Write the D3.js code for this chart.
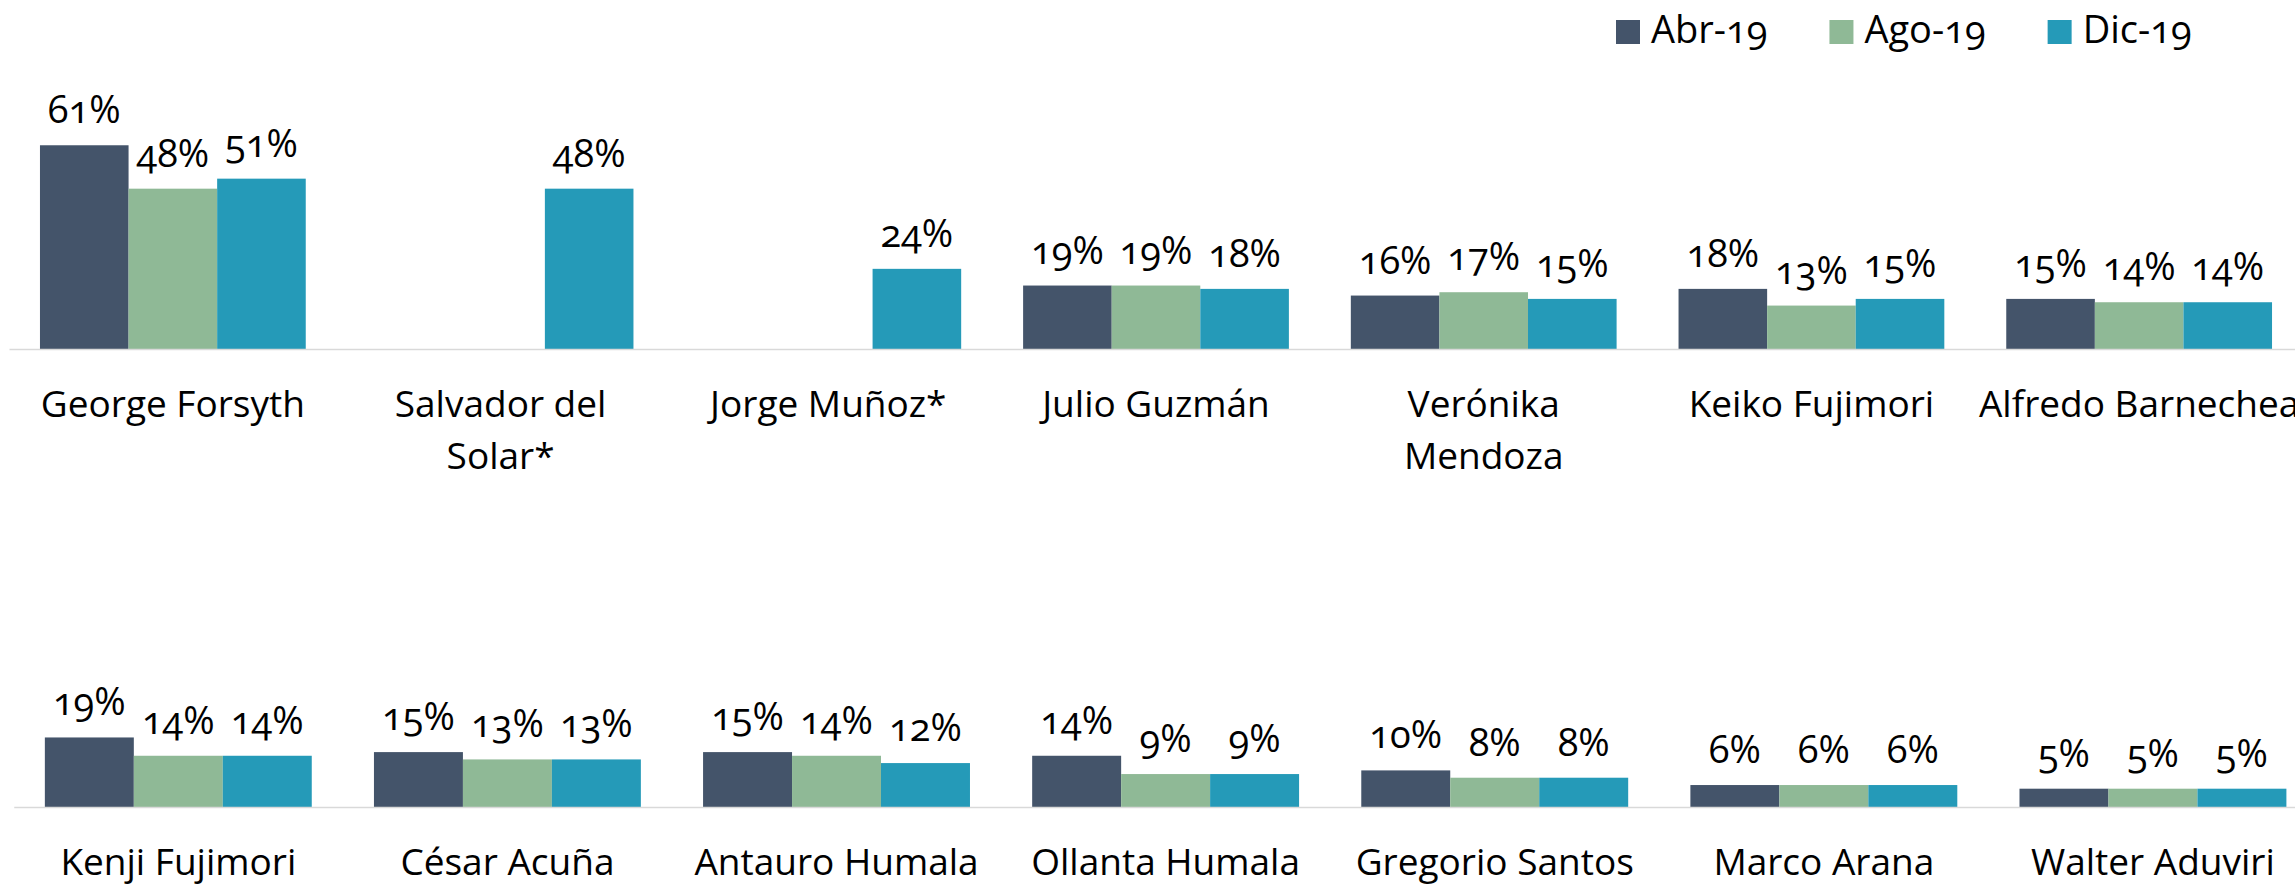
<!DOCTYPE html>
<html>
<head>
<meta charset="utf-8">
<script src="https://cdn.jsdelivr.net/npm/d3@7"></script>
<style>
  html, body { margin: 0; padding: 0; background: #fff; }
  svg { display: block; }
  text { font-family: "Open Sans", "Noto Sans", sans-serif; fill: #000; font-feature-settings: "onum" 1; font-variant-numeric: oldstyle-nums; }
</style>
</head>
<body>
<svg id="chart" width="2295" height="885"></svg>
<script>
// ---- Data ----
const series = ["Abr-19", "Ago-19", "Dic-19"];
const seriesColors = ["#44546A", "#8FB996", "#259AB8"];

const topCategories = ["George Forsyth", "Salvador del\nSolar*", "Jorge Muñoz*", "Julio Guzmán", "Verónika\nMendoza", "Keiko Fujimori", "Alfredo Barnechea"];
const topAbr = [61, null, null, 19, 16, 18, 15];
const topAgo = [48, null, null, 19, 17, 13, 14];
const topDic = [51, 48, 24, 18, 15, 15, 14];

const bottomCategories = ["Kenji Fujimori", "César Acuña", "Antauro Humala", "Ollanta Humala", "Gregorio Santos", "Marco Arana", "Walter Aduviri"];
const bottomAbr = [19, 15, 15, 14, 10, 6, 5];
const bottomAgo = [14, 13, 14, 9, 8, 6, 5];
const bottomDic = [14, 13, 12, 9, 8, 6, 5];

// ---- Drawing ----
const svg = d3.select("#chart");

function panel(cfg) {
  const { categories, values, xRange, baseY, pxPerPct } = cfg;
  const g = svg.append("g");

  const x = d3.scaleBand().domain(categories).range(xRange)
    .paddingInner(0.189).paddingOuter(0.0945);
  const xs = d3.scaleBand().domain(series).range([0, x.bandwidth()]);
  const y = d3.scaleLinear().domain([0, 100]).range([baseY, baseY - 100 * pxPerPct]);

  const rows = [];
  categories.forEach((c, i) => {
    series.forEach((s, j) => {
      const v = values[j][i];
      if (v != null) rows.push({ c, s, v, j });
    });
  });

  g.selectAll("rect.bar").data(rows).join("rect")
    .attr("class", "bar")
    .attr("x", d => x(d.c) + xs(d.s))
    .attr("width", xs.bandwidth())
    .attr("y", d => y(d.v))
    .attr("height", d => y(0) - y(d.v))
    .attr("fill", d => seriesColors[d.j]);

  g.selectAll("text.val").data(rows).join("text")
    .attr("class", "val")
    .attr("x", d => x(d.c) + xs(d.s) + xs.bandwidth() / 2)
    .attr("y", d => y(d.v) - 22)
    .attr("text-anchor", "middle")
    .style("font-size", "38px")
    .text(d => d.v + "%");

  const axis = d3.axisBottom(x).tickSize(0).tickSizeOuter(0).tickFormat("");
  const ag = g.append("g").attr("transform", `translate(0,${baseY})`).call(axis);
  ag.select(".domain").attr("stroke", "#d9d9d9").attr("stroke-width", 1.5);

  ag.selectAll(".tick text").remove();
  ag.selectAll(".tick").append("text")
    .attr("text-anchor", "middle")
    .attr("y", 68)
    .style("font-size", "37px")
    .attr("fill", "#000")
    .each(function (d) {
      const lines = d.split("\n");
      const t = d3.select(this);
      lines.forEach((ln, k) => {
        t.append("tspan").attr("x", 0).attr("dy", k === 0 ? 0 : 52).text(ln);
      });
    });
}

panel({
  categories: topCategories,
  values: [topAbr, topAgo, topDic],
  xRange: [9, 2303],
  baseY: 349,
  pxPerPct: 3.34
});

panel({
  categories: bottomCategories,
  values: [bottomAbr, bottomAgo, bottomDic],
  xRange: [13.75, 2317.5],
  baseY: 807,
  pxPerPct: 3.66
});

// ---- Legend ----
const legend = svg.append("g");
let lx = 1616;
series.forEach((s, i) => {
  legend.append("rect").attr("x", lx).attr("y", 20).attr("width", 24).attr("height", 24)
    .attr("fill", seriesColors[i]);
  const t = legend.append("text").attr("x", lx + 35).attr("y", 43)
    .style("font-size", "38px").text(s);
  lx = lx + 35 + t.node().getComputedTextLength() + 62;
});
</script>
</body>
</html>
